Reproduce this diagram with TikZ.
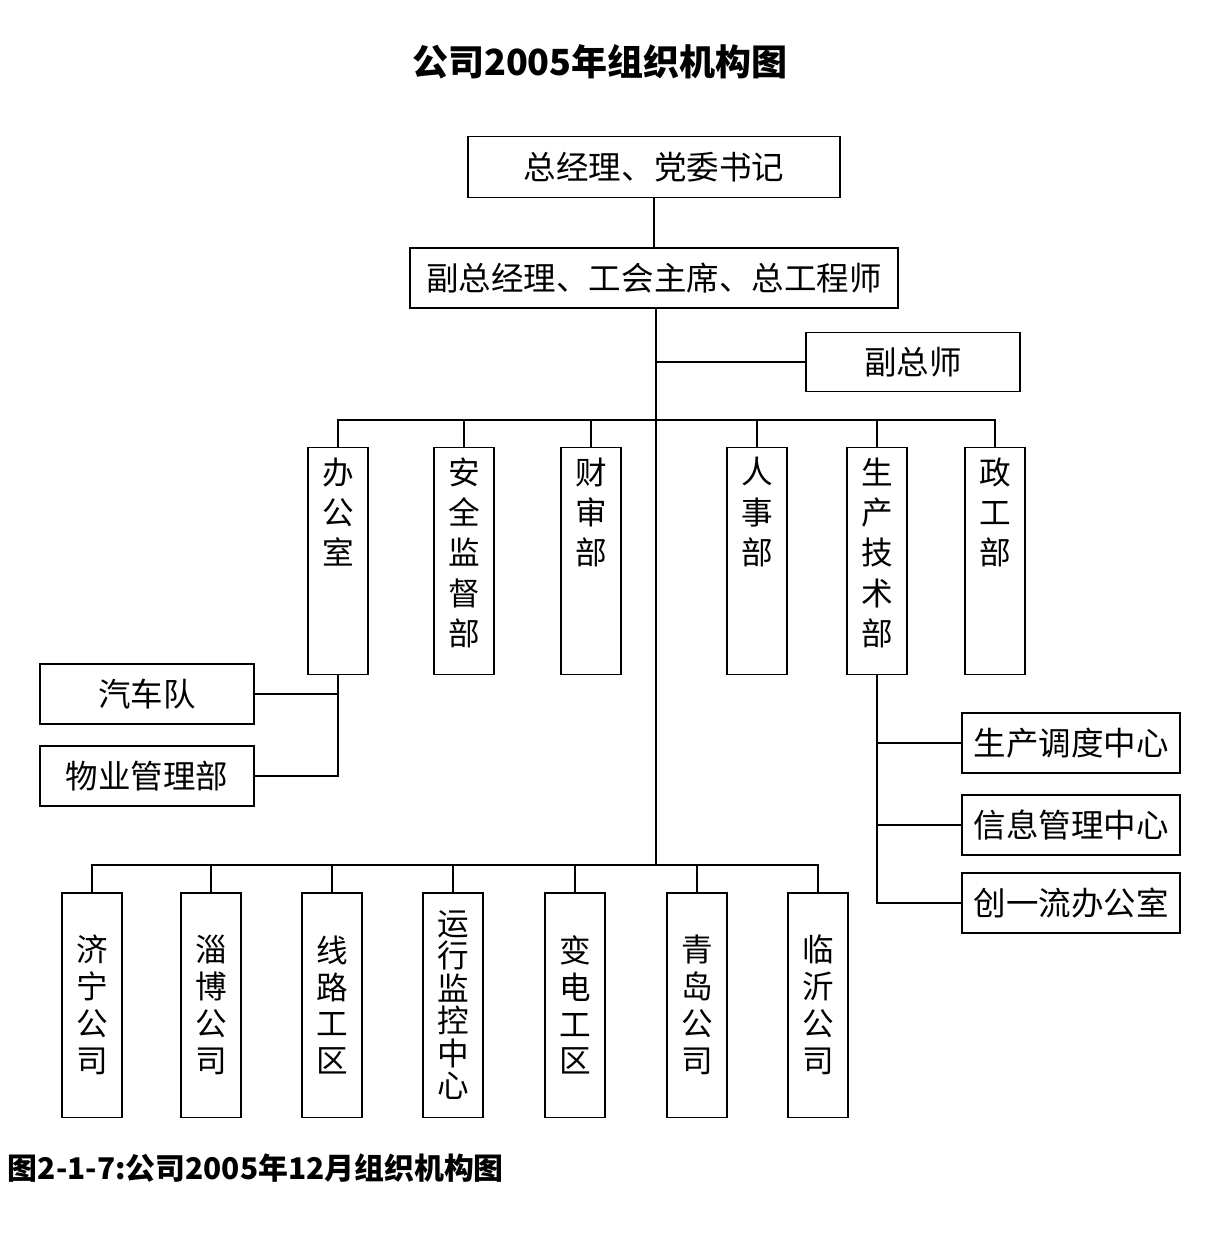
\documentclass[tikz,border=0pt]{standalone}
\usepackage{fontspec}
\setmainfont{Noto Sans CJK SC}
\usetikzlibrary{positioning}
\begin{document}
\begin{tikzpicture}
[x=0.02cm,y=-0.02cm,
 every node/.style={inner sep=0mm,outer sep=0mm},
 box/.style={draw=black,line width=1.1pt,font=\fontsize{18.5}{18.5}\selectfont},
 col/.style={box,minimum width=1.2cm,minimum height=4.54cm},
 low/.style={box,minimum width=1.2cm,minimum height=4.5cm,align=center,
   font=\fontsize{18}{21}\selectfont},
 side/.style={box,minimum width=4.28cm,minimum height=1.2cm},
 vtxt/.style={align=center,font=\fontsize{18}{23}\selectfont,below=0.2cm},
 line width=1.1pt]
\useasboundingbox (0,0) rectangle (1210,1234);

\node[font=\bfseries\fontsize{20.5}{20.5}\selectfont] (title) at (600,62) {公司2005年组织机构图};

% top
\node[box,minimum width=7.44cm,minimum height=1.22cm] (zjl)  at (654,167) {总经理、党委书记};
\node[box,minimum width=9.76cm,minimum height=1.2cm]  (fzjl) at (654,278) {副总经理、工会主席、总工程师};
\node[box,minimum width=4.28cm,minimum height=1.18cm] (fzs)  at (913,362) {副总师};

\coordinate (busT) at (656,420);
\coordinate (busB) at (656,865);
\coordinate (fzsJ) at (656,362);

% departments
\node[col] (ban) at (338,561) {};
\node[col] (aq)  at (464,561) {};
\node[col] (cs)  at (591,561) {};
\node[col] (rs)  at (757,561) {};
\node[col] (sc)  at (877,561) {};
\node[col] (zg)  at (995,561) {};
\node[vtxt] at (ban.north) {办\\公\\室};
\node[vtxt] at (aq.north)  {安\\全\\监\\督\\部};
\node[vtxt] at (cs.north)  {财\\审\\部};
\node[vtxt] at (rs.north)  {人\\事\\部};
\node[vtxt] at (sc.north)  {生\\产\\技\\术\\部};
\node[vtxt] at (zg.north)  {政\\工\\部};

% office units
\node[side] (qc) at (147,694) {汽车队};
\node[side] (wy) at (147,776) {物业管理部};

% production units
\node[side,minimum width=4.36cm] (dd) at (1071,743) {生产调度中心};
\node[side,minimum width=4.36cm] (xx) at (1071,825) {信息管理中心};
\node[side,minimum width=4.36cm] (cy) at (1071,903) {创一流办公室};

% branches
\node[low] (jn) at (92,1005)  {济\\宁\\公\\司};
\node[low] (zb) at (211,1005) {淄\\博\\公\\司};
\node[low] (xl) at (332,1005) {线\\路\\工\\区};
\node[low,font=\fontsize{18}{18.5}\selectfont] (yx) at (453,1005) {运\\行\\监\\控\\中\\心};
\node[low] (bd) at (575,1005) {变\\电\\工\\区};
\node[low] (qd) at (697,1005) {青\\岛\\公\\司};
\node[low] (ly) at (818,1005) {临\\沂\\公\\司};

\draw (zjl) -- (fzjl);
\draw (fzjl.south -| busB) -- (busB);
\draw (fzsJ) -- (fzs);
\draw (ban.north) |- (busT) -| (zg.north);
\foreach \n in {aq,cs,rs,sc} \draw (\n.north) -- (\n.north |- busT);
\draw (jn.north) |- (busB) -| (ly.north);
\foreach \n in {zb,xl,yx,bd,qd} \draw (\n.north) -- (\n.north |- busB);

\draw (ban.south) |- (wy);
\draw (qc) -- (qc -| ban.south);
\draw (sc.south) |- (cy);
\draw (dd) -- (dd -| sc.south);
\draw (xx) -- (xx -| sc.south);

\node[anchor=west,font=\bfseries\fontsize{17}{17}\selectfont] (cap) at (8,1168) {图2-1-7:公司2005年12月组织机构图};
\end{tikzpicture}
\end{document}
